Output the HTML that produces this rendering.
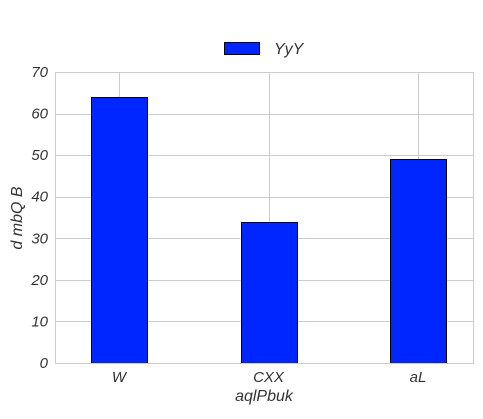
<!DOCTYPE html>
<html><head><meta charset="utf-8"><style>
body{margin:0;background:#fff;}
svg text{font-family:"Liberation Sans",sans-serif;font-style:italic;fill:#333;}
</style></head><body>
<svg width="483" height="414">
<g id="grid"></g>
<g id="bars"></g>
<g id="ticks"></g>
<rect x="55.5" y="72.5" width="418" height="291" fill="none" stroke="#ccc"/>
<g>
<rect x="224.5" y="42.5" width="35" height="12" fill="#0026ff" stroke="#000"/>
<text x="274" y="54" font-size="16">YyY</text>
</g>
<text x="264" y="401" font-size="16" text-anchor="middle">aqlPbuk</text>
<text transform="translate(22,218) rotate(-90)" font-size="16" text-anchor="middle">d mbQ B</text>
<script>
const categories=["W","CXX","aL"];
const values=[64,34,49];
const yTicks=[0,10,20,30,40,50,60,70];
const x0=55,x1=473,y0=363,y1=72,yMax=70;
const ys=v=>y0-(v/yMax)*(y0-y1);
const step=(x1-x0-119)/(categories.length-1);
const xs=i=>x0+64+step*i;
const NS="http://www.w3.org/2000/svg";
const grid=document.getElementById('grid'),bars=document.getElementById('bars'),ticks=document.getElementById('ticks');
yTicks.forEach(t=>{
 const l=document.createElementNS(NS,'line');
 l.setAttribute('x1',x0);l.setAttribute('x2',x1);l.setAttribute('y1',Math.round(ys(t))+0.5);l.setAttribute('y2',Math.round(ys(t))+0.5);
 l.setAttribute('stroke','#ccc');
 
 
 grid.appendChild(l);
 const tx=document.createElementNS(NS,'text');
 tx.setAttribute('x',48);tx.setAttribute('y',ys(t)+5);tx.setAttribute('text-anchor','end');tx.setAttribute('font-size','15');
 tx.textContent=t;
 
 
 ticks.appendChild(tx);
});
categories.forEach((c,i)=>{
 const g=document.createElementNS(NS,'line');
 g.setAttribute('x1',Math.round(xs(i))+0.5);g.setAttribute('x2',Math.round(xs(i))+0.5);g.setAttribute('y1',y1);g.setAttribute('y2',y0);
 g.setAttribute('stroke','#ccc');
 
 
 grid.appendChild(g);
 const r=document.createElementNS(NS,'rect');
 r.setAttribute('x',Math.round(xs(i)-28)+0.5);r.setAttribute('width',56);
 r.setAttribute('y',Math.round(ys(values[i]))+0.5);r.setAttribute('height',y0-Math.round(ys(values[i])));
 r.setAttribute('fill','#0026ff');r.setAttribute('stroke','#000');
 
 
 bars.appendChild(r);
 const tx=document.createElementNS(NS,'text');
 tx.setAttribute('x',xs(i));tx.setAttribute('y',382);tx.setAttribute('text-anchor','middle');tx.setAttribute('font-size','15');
 tx.textContent=c;
 
 
 ticks.appendChild(tx);
});
</script>
</svg>
</body></html>
